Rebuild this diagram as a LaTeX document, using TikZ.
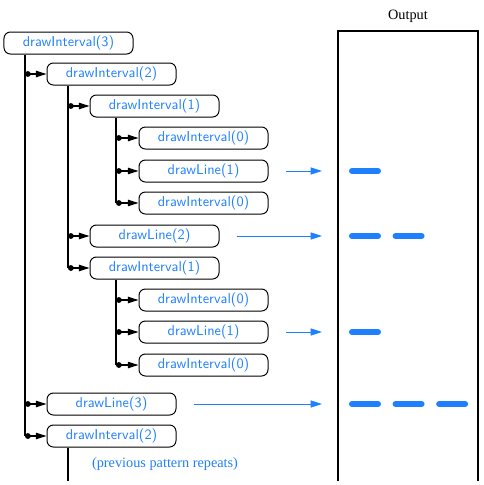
\documentclass[tikz,border=0pt]{standalone}
\usepackage{fontspec}
\setmainfont{Liberation Serif}
\usetikzlibrary{arrows.meta}
\definecolor{callblue}{HTML}{1E80FF}
\tikzset{
  callbox/.style={draw=black,line width=0.7pt,rounded corners=4.5pt,minimum width=90.3pt,minimum height=15.4pt,inner sep=0pt,font=\sffamily,text=callblue},
  spine/.style={line width=0.9pt},
  spawn/.style={line width=0.9pt,{Circle[length=4pt]}-{Triangle[length=7.5pt,width=4.5pt]}},
  emit/.style={callblue,line width=0.6pt,-{Triangle[length=8pt,width=5pt]}},
  dashbar/.style={callblue,line width=4.2pt,line cap=round},
}

\begin{document}
\begin{tikzpicture}[x=0.7pt,y=-0.7pt]
  \useasboundingbox (0,0) rectangle (484,485);
  % spine positions and arrow ends
  \coordinate (sA) at (25,0);
  \coordinate (sB) at (68,0);
  \coordinate (sC) at (116,0);
  \coordinate (rim) at (322,0);
  \coordinate (ink) at (352,0);
  \coordinate (floor) at (0,481);
  % recursion trace
  \node[callbox] (i3)  at (68.5,43)   {drawInterval(3)};
  \node[callbox] (i2a) at (111.5,74)  {drawInterval(2)};
  \node[callbox] (i1a) at (154.5,106) {drawInterval(1)};
  \node[callbox] (i0a) at (203.5,138) {drawInterval(0)};
  \node[callbox] (l1a) at (203.5,171) {drawLine(1)};
  \node[callbox] (i0b) at (203.5,203) {drawInterval(0)};
  \node[callbox] (l2)  at (154.5,236) {drawLine(2)};
  \node[callbox] (i1b) at (154.5,268) {drawInterval(1)};
  \node[callbox] (i0c) at (203.5,300) {drawInterval(0)};
  \node[callbox] (l1b) at (203.5,332) {drawLine(1)};
  \node[callbox] (i0d) at (203.5,365) {drawInterval(0)};
  \node[callbox] (l3)  at (111.5,404) {drawLine(3)};
  \node[callbox] (i2b) at (111.5,436) {drawInterval(2)};
  \node[text=callblue] (more) at (165,464) {(previous pattern repeats)};
  % spines
  \draw[spine] (i3.south -| sA) -- (i2b.west -| sA);
  \draw[spine] (i2a.south -| sB) -- (i1b.west -| sB);
  \draw[spine] (i1a.south -| sC) -- (i0b.west -| sC);
  \draw[spine] (i1b.south -| sC) -- (i0d.west -| sC);
  \draw[spine] (i2b.south -| sB) -- (floor -| sB);
  \foreach \n in {i2a,l3,i2b} \draw[spawn] (\n.west -| sA) -- (\n.west);
  \foreach \n in {i1a,l2,i1b} \draw[spawn] (\n.west -| sB) -- (\n.west);
  \foreach \n in {i0a,l1a,i0b,i0c,l1b,i0d} \draw[spawn] (\n.west -| sC) -- (\n.west);
  % output panel
  \node (out) at (408,16) {Output};
  \draw[line width=1pt] (floor -| 338,0) -- (338,31) -- (478,31) -- (floor -| 478,0);
  \foreach \n/\k in {l1a/1,l2/2,l1b/1,l3/3} {
    \draw[emit] ([xshift=11.9pt]\n.east) -- (\n.east -| rim);
    \foreach \j in {1,...,\k} \draw[dashbar] ([xshift={(\j-1)*30.5pt}]\n.east -| ink) -- ++(26,0);
  }
\end{tikzpicture}
\end{document}
